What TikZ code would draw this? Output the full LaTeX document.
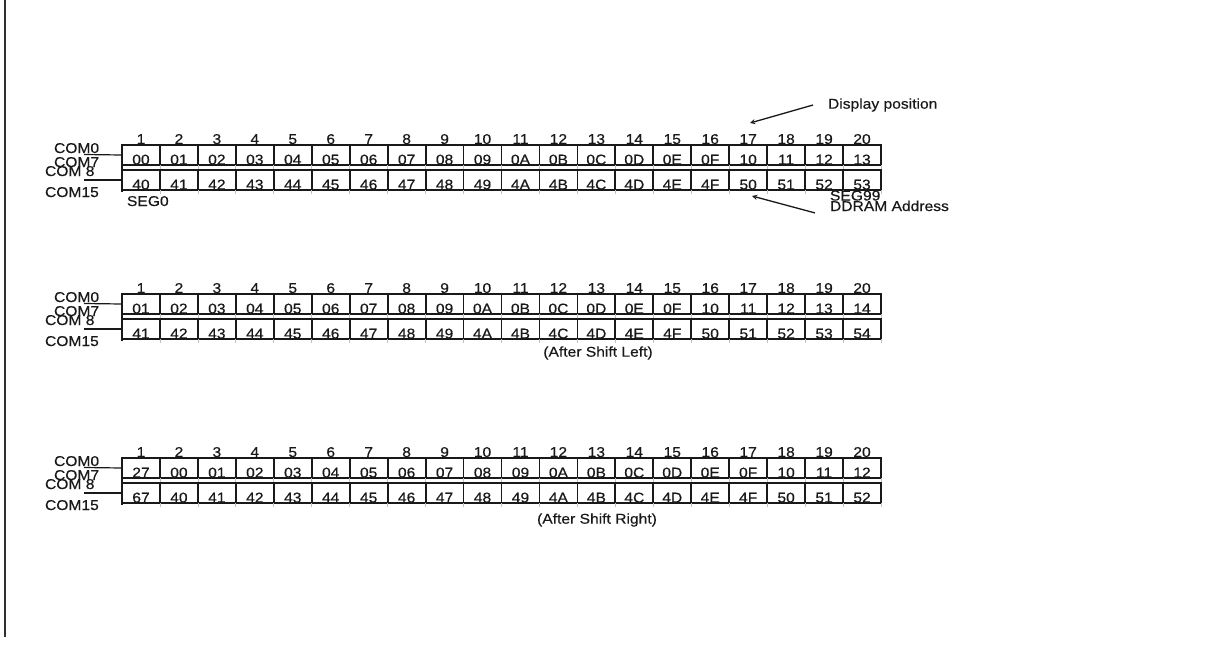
\documentclass[tikz,border=0pt]{standalone}
\usepackage{fontspec}
\setmainfont[FakeStretch=1.1,FakeBold=0.4]{Liberation Sans}
\usepackage{tikz}
\usetikzlibrary{arrows}
\definecolor{ink}{rgb}{0.1,0.1,0.1}
\tikzstyle{every node}=[font=\fontsize{14.2}{15}\selectfont,inner sep=0pt,outer sep=0pt,text=ink]
\tikzstyle{cell}=[draw=ink,line width=1.8pt,minimum width=37.95pt,minimum height=20pt,text height=19.5pt,text depth=0.5pt,anchor=north west]
\tikzstyle{colnum}=[anchor=base]
\tikzstyle{edge}=[draw=ink,line width=1.8pt]
\tikzstyle{wire}=[draw=ink,line width=1.2pt]
\tikzstyle{tick}=[draw=gray!50,line width=0.8pt]
\tikzstyle{pointer}=[draw=ink,line width=1.3pt,-stealth]

% one block of two DDRAM rows: #1 name, #2 top, #3 and #4 the addresses
\newcommand{\ramrows}[4]{%
  \foreach \k in {1,...,20}
    \node[colnum] (#1n\k) at ({122+(\k-0.5)*37.95},#2-1) {\k};
  \foreach \v [count=\k] in {#3}
    \node[cell] (#1a\k) at ({122+(\k-1)*37.95},#2) {\v};
  \foreach \v [count=\k] in {#4}
    \node[cell] (#1b\k) at ({122+(\k-1)*37.95},#2+25) {\v};
  \foreach \k in {1,...,20} {
    \draw[tick] (#1a\k.south east) -- ++(0,4);
    \draw[tick] (#1b\k.south east) -- ++(0,4);
  }
  \draw[edge] (#1a1.north west) -- ([yshift=-2pt]#1b1.south west);
  \node[anchor=base west] (#1cz) at (54,#2+8) {COM0};
  \node[anchor=base west] (#1cs) at (54,#2+22) {COM7};
  \node[anchor=base west] (#1ce) at (45,#2+31) {COM 8};
  \node[anchor=base west] (#1cf) at (45,#2+52) {COM15};
  \coordinate (#1wa) at (84,#2+9.5);
  \coordinate (#1wb) at (84,#2+35);
  \draw[wire] (#1wa) -- (#1a1.west);
  \draw[wire] (#1wb) -- (#1b1.west);
}

\begin{document}
\begin{tikzpicture}[x=1pt,y=-1pt]
\useasboundingbox (0,0) rectangle (1220,646);
\draw[draw=ink!90,line width=1.3pt] (5,0) -- (5,637);

% normal display
\ramrows{A}{145}{00,01,02,03,04,05,06,07,08,09,0A,0B,0C,0D,0E,0F,10,11,12,13}{40,41,42,43,44,45,46,47,48,49,4A,4B,4C,4D,4E,4F,50,51,52,53}
\node[anchor=base west] (seg0) at (127,206) {SEG0};
\node[anchor=base west] (seg99) at (830,200.5) {SEG99};
\node[anchor=base west] (ddram) at (830,211) {DDRAM Address};
\node[anchor=west] (disp) at (828,105) {Display position};
\coordinate (disptip) at (750,123);
\coordinate (ddtip) at (752,196);
\draw[pointer] ([xshift=-15pt]disp.west) -- (disptip);
\draw[pointer] ([xshift=-15pt,yshift=-7pt]ddram.west) -- (ddtip);

% shifted left
\ramrows{B}{294}{01,02,03,04,05,06,07,08,09,0A,0B,0C,0D,0E,0F,10,11,12,13,14}{41,42,43,44,45,46,47,48,49,4A,4B,4C,4D,4E,4F,50,51,52,53,54}
\node (left) at (598,353) {(After Shift Left)};

% shifted right
\ramrows{C}{458}{27,00,01,02,03,04,05,06,07,08,09,0A,0B,0C,0D,0E,0F,10,11,12}{67,40,41,42,43,44,45,46,47,48,49,4A,4B,4C,4D,4E,4F,50,51,52}
\node (right) at (597,520) {(After Shift Right)};
\end{tikzpicture}
\end{document}
